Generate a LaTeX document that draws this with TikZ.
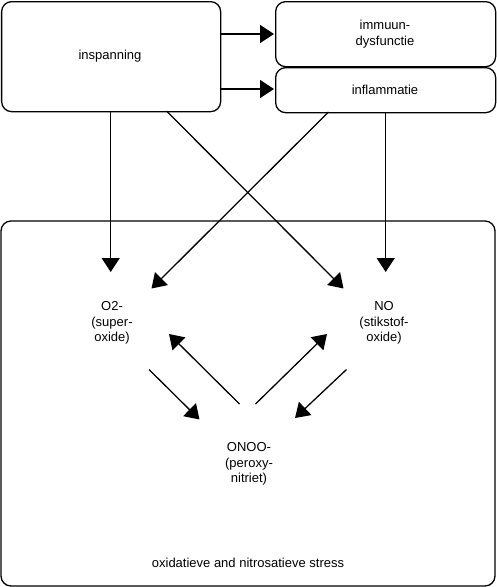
\documentclass[tikz,border=0pt]{standalone}
\usepackage{fontspec}
\setmainfont{Liberation Sans}
\usetikzlibrary{arrows.meta}
\begin{document}
\begin{tikzpicture}[x=1pt,y=-1pt,
  box/.style={draw,line width=1.3pt,rounded corners=10pt},
  lbl/.style={font=\fontsize{13}{15.5}\selectfont,align=center,inner sep=0pt},
  arr/.style={line width=1.3pt,-{Triangle[length=14pt,width=18pt]}}]
\useasboundingbox (0,0) rectangle (496,587);
% boxes
\draw[box] (1,221) rectangle (495,586);
\node[box,minimum width=219pt,minimum height=110pt,anchor=north west] (insp) at (1,1) {};
\node[box,minimum width=220pt,minimum height=65pt,anchor=north west] (immu) at (275,1) {};
\node[box,minimum width=220pt,minimum height=45pt,anchor=north west] (infl) at (275,67) {};
% texts
\node[lbl] (tinsp) at (110,56) {inspanning};
\node[lbl] (timmu) at (385,34) {immuun-\\dysfunctie};
\node[lbl] (tinfl) at (385,89.5) {inflammatie};
\node[lbl] (o2) at (112,323) {O2-\\(super-\\oxide)};
\node[lbl] (no) at (384,323) {NO\\(stikstof-\\oxide)};
\node[lbl] (onoo) at (249,464) {ONOO-\\(peroxy-\\nitriet)};
\node[lbl] (stress) at (248,563) {oxidatieve and nitrosatieve stress};
% arrow endpoints
\coordinate (a1s) at (220,34);   \coordinate (a1e) at (274,34);
\coordinate (a2s) at (220,89);   \coordinate (a2e) at (274,89);
\coordinate (a3s) at (110.7,111); \coordinate (a3e) at (110.7,272);
\coordinate (a4s) at (166.5,111); \coordinate (a4e) at (343.5,288.5);
\coordinate (a5s) at (328.5,112); \coordinate (a5e) at (151.5,288.5);
\coordinate (a6s) at (385.7,112); \coordinate (a6e) at (385.7,272);
\coordinate (b1s) at (149,369.5); \coordinate (b1e) at (199.5,419.5);
\coordinate (b2s) at (239.5,404); \coordinate (b2e) at (169,334);
\coordinate (b3s) at (255.5,404); \coordinate (b3e) at (327,334);
\coordinate (b4s) at (346.5,369.5); \coordinate (b4e) at (295,418);
\draw[arr] (a1s) -- (a1e);
\draw[arr] (a2s) -- (a2e);
\draw[arr] (a3s) -- (a3e);
\draw[arr] (a4s) -- (a4e);
\draw[arr] (a5s) -- (a5e);
\draw[arr] (a6s) -- (a6e);
\draw[arr] (b1s) -- (b1e);
\draw[arr] (b2s) -- (b2e);
\draw[arr] (b3s) -- (b3e);
\draw[arr] (b4s) -- (b4e);
\end{tikzpicture}
\end{document}
